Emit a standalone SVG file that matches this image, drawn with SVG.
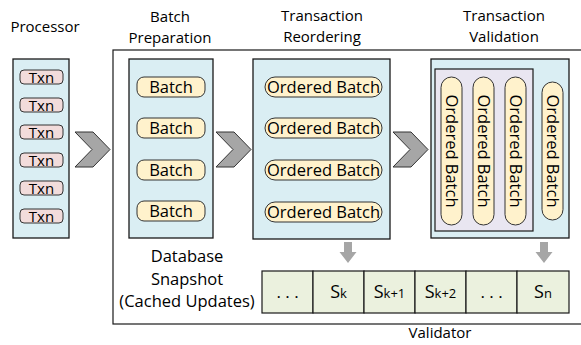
<svg xmlns="http://www.w3.org/2000/svg" width="581" height="345" viewBox="0 0 581 345">
<defs>
<style>
text{font-family:"Open Sans","Liberation Sans",sans-serif;fill:#000}
.hdr{font-size:15px;text-anchor:middle}
.db{font-size:16.5px;text-anchor:middle}
.box{fill:#daeef3;stroke:#1a1a1a;stroke-width:1.3}
.txn{fill:#f2dcdb;stroke:#333;stroke-width:1}
.pill{fill:#fff2cc;stroke:#333;stroke-width:1}
.lbl{font-size:15px;text-anchor:middle;dominant-baseline:central}
.ob{font-size:16.5px;text-anchor:middle;dominant-baseline:central}
.cell{fill:#ebf1de;stroke:#1a1a1a;stroke-width:1.2}
.chev{fill:#a6a6a6;stroke:#333;stroke-width:1}
.darr{fill:#a6a6a6}
</style>
<path id="chevron" d="M0,0 H18 L35,17.5 L18,35 H0 L17,17.5 Z"/>
<path id="down" d="M-4,0 H4 V10 H8.5 L0,21 L-8.5,10 H-4 Z"/>
</defs>

<!-- Validator outer frame -->
<g id="validator">
<rect x="113" y="50" width="480" height="274" fill="#fff" stroke="#1a1a1a" stroke-width="1.2"/>
<text class="hdr" x="440" y="338">Validator</text>
</g>

<!-- Processor -->
<g id="processor">
<text class="hdr" x="45" y="32">Processor</text>
<rect class="box" x="13" y="59" width="56" height="179"/>
<g>
<rect class="txn" x="20" y="70" width="43" height="14" rx="4"/>
<text class="lbl" x="41.5" y="77">Txn</text>
<rect class="txn" x="20" y="98" width="43" height="14" rx="4"/>
<text class="lbl" x="41.5" y="105">Txn</text>
<rect class="txn" x="20" y="125" width="43" height="14" rx="4"/>
<text class="lbl" x="41.5" y="132">Txn</text>
<rect class="txn" x="20" y="153" width="43" height="14" rx="4"/>
<text class="lbl" x="41.5" y="160">Txn</text>
<rect class="txn" x="20" y="181" width="43" height="14" rx="4"/>
<text class="lbl" x="41.5" y="188">Txn</text>
<rect class="txn" x="20" y="209" width="43" height="14" rx="4"/>
<text class="lbl" x="41.5" y="216">Txn</text>
</g>
</g>

<!-- Batch Preparation -->
<g id="batch-prep">
<text class="hdr" x="170" y="22">Batch</text>
<text class="hdr" x="170" y="43">Preparation</text>
<rect class="box" x="129" y="59" width="84" height="179"/>
<rect class="pill" x="137" y="77" width="68" height="20" rx="7"/>
<text class="ob" x="171" y="86.5">Batch</text>
<rect class="pill" x="137" y="118" width="68" height="20" rx="7"/>
<text class="ob" x="171" y="127.5">Batch</text>
<rect class="pill" x="137" y="160" width="68" height="20" rx="7"/>
<text class="ob" x="171" y="169.5">Batch</text>
<rect class="pill" x="137" y="201" width="68" height="20" rx="7"/>
<text class="ob" x="171" y="210.5">Batch</text>
</g>

<!-- Transaction Reordering -->
<g id="reordering">
<text class="hdr" x="322" y="21">Transaction</text>
<text class="hdr" x="322" y="42">Reordering</text>
<rect class="box" x="253" y="59" width="137" height="180"/>
<rect class="pill" x="265" y="77" width="117" height="20" rx="10"/>
<text class="ob" x="323.5" y="86.5">Ordered Batch</text>
<rect class="pill" x="265" y="118" width="117" height="20" rx="10"/>
<text class="ob" x="323.5" y="127.5">Ordered Batch</text>
<rect class="pill" x="265" y="160" width="117" height="20" rx="10"/>
<text class="ob" x="323.5" y="169.5">Ordered Batch</text>
<rect class="pill" x="265" y="202" width="117" height="20" rx="10"/>
<text class="ob" x="323.5" y="211.5">Ordered Batch</text>
</g>

<!-- Transaction Validation -->
<g id="validation">
<text class="hdr" x="504" y="21">Transaction</text>
<text class="hdr" x="504" y="42">Validation</text>
<rect class="box" x="431" y="59" width="138" height="179"/>
<rect x="435" y="69" width="98" height="162" fill="#e9e6f1" stroke="#1a1a1a" stroke-width="1.2"/>
<rect class="pill" x="441" y="77" width="21" height="148" rx="10.5"/>
<text class="ob" transform="translate(452,151) rotate(90)">Ordered Batch</text>
<rect class="pill" x="473" y="77" width="21" height="148" rx="10.5"/>
<text class="ob" transform="translate(484,151) rotate(90)">Ordered Batch</text>
<rect class="pill" x="505" y="77" width="21" height="148" rx="10.5"/>
<text class="ob" transform="translate(516,151) rotate(90)">Ordered Batch</text>
<rect class="pill" x="542" y="82" width="21" height="138" rx="10.5"/>
<text class="ob" transform="translate(553,151) rotate(90)">Ordered Batch</text>
</g>

<!-- Database Snapshot -->
<g id="snapshot">
<text class="db" x="187" y="262">Database</text>
<text class="db" x="187" y="285">Snapshot</text>
<text class="db" x="187" y="307">(Cached Updates)</text>
<rect class="cell" x="262" y="271" width="51" height="42"/>
<rect class="cell" x="313" y="271" width="51" height="42"/>
<rect class="cell" x="364" y="271" width="51" height="42"/>
<rect class="cell" x="415" y="271" width="51" height="42"/>
<rect class="cell" x="466" y="271" width="51" height="42"/>
<rect class="cell" x="517" y="271" width="52" height="42"/>
<text class="hdr" x="287.5" y="298" style="font-size:17px">. . .</text>
<text class="hdr" x="338.5" y="298" style="font-size:18px">S<tspan style="font-size:13px">k</tspan></text>
<text class="hdr" x="389.5" y="298" style="font-size:18px">S<tspan style="font-size:13px">k+1</tspan></text>
<text class="hdr" x="440.5" y="298" style="font-size:18px">S<tspan style="font-size:13px">k+2</tspan></text>
<text class="hdr" x="491.5" y="298" style="font-size:17px">. . .</text>
<text class="hdr" x="543" y="298" style="font-size:18px">S<tspan style="font-size:13px">n</tspan></text>
</g>

<!-- Connectors -->
<g id="connectors">
<use href="#chevron" class="chev" x="75" y="132"/>
<use href="#chevron" class="chev" x="216" y="132"/>
<use href="#chevron" class="chev" x="393" y="132"/>
<use href="#down" class="darr" x="348" y="242"/>
<use href="#down" class="darr" x="544" y="242"/>
</g>
</svg>
